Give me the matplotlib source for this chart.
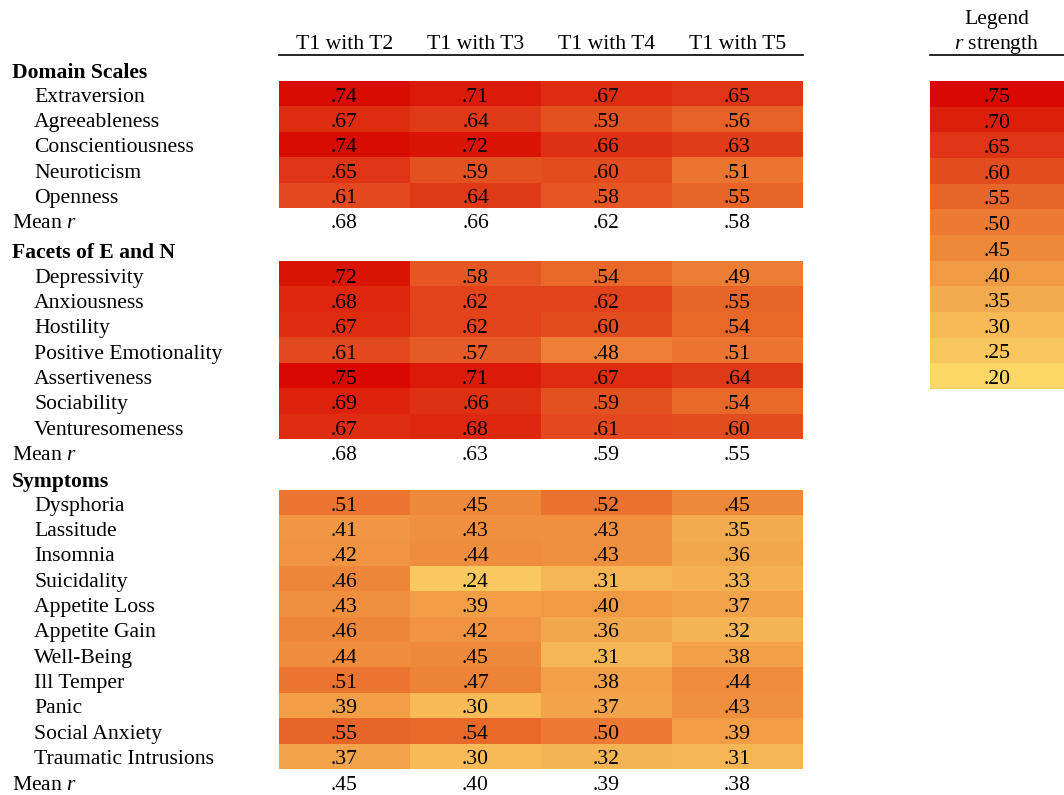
import numpy as np
import matplotlib
matplotlib.use('Agg')
import matplotlib.pyplot as plt
from matplotlib.colors import LinearSegmentedColormap

plt.rcParams['font.family'] = ['Liberation Serif', 'DejaVu Serif']
plt.rcParams['mathtext.fontset'] = 'custom'
plt.rcParams['mathtext.rm'] = 'Liberation Serif'
plt.rcParams['mathtext.it'] = 'Liberation Serif:italic'

# column headers
cols = ['T1 with T2', 'T1 with T3', 'T1 with T4', 'T1 with T5']

# block 1: domain scales
domain_names = ['Extraversion', 'Agreeableness', 'Conscientiousness', 'Neuroticism', 'Openness']
domain_vals = [[.74, .71, .67, .65],
               [.67, .64, .59, .56],
               [.74, .72, .66, .63],
               [.65, .59, .60, .51],
               [.61, .64, .58, .55]]
domain_mean = [.68, .66, .62, .58]

# block 2: facets
facet_names = ['Depressivity', 'Anxiousness', 'Hostility', 'Positive Emotionality',
               'Assertiveness', 'Sociability', 'Venturesomeness']
facet_vals = [[.72, .58, .54, .49],
              [.68, .62, .62, .55],
              [.67, .62, .60, .54],
              [.61, .57, .48, .51],
              [.75, .71, .67, .64],
              [.69, .66, .59, .54],
              [.67, .68, .61, .60]]
facet_mean = [.68, .63, .59, .55]

# block 3: symptoms
symptom_names = ['Dysphoria', 'Lassitude', 'Insomnia', 'Suicidality', 'Appetite Loss',
                 'Appetite Gain', 'Well-Being', 'Ill Temper', 'Panic', 'Social Anxiety',
                 'Traumatic Intrusions']
symptom_vals = [[.51, .45, .52, .45],
                [.41, .43, .43, .35],
                [.42, .44, .43, .36],
                [.46, .24, .31, .33],
                [.43, .39, .40, .37],
                [.46, .42, .36, .32],
                [.44, .45, .31, .38],
                [.51, .47, .38, .44],
                [.39, .30, .37, .43],
                [.55, .54, .50, .39],
                [.37, .30, .32, .31]]
symptom_mean = [.45, .40, .39, .38]

# legend scale
legend_vals = [.75, .70, .65, .60, .55, .50, .45, .40, .35, .30, .25, .20]
legend_colors = ['#D90800', '#DD200C', '#E03516', '#E44D20', '#E86529', '#EC7A33',
                 '#EF8A3B', '#F29B45', '#F4AA4E', '#F7BA57', '#F9C65E', '#FCD765']

cmap = LinearSegmentedColormap.from_list(
    'rstr', list(zip([(v - .20) / .55 for v in legend_vals[::-1]], legend_colors[::-1])))
vmin, vmax = .20, .75

fig = plt.figure(figsize=(10.64, 7.95), dpi=100)
ax = fig.add_axes([0, 0, 1, 1])
ax.set_xlim(0, 1064)
ax.set_ylim(795, 0)
ax.axis('off')

fs = 15.6
dy = 3.5  # nudge text to sit like the reference
x0, x1 = 279, 803
cw = (x1 - x0) / 4
rh = 25.35
col_x = [x0 + cw * (i + .5) for i in range(4)]


def txt(x, y, s, **kw):
    kw.setdefault('ha', 'center')
    ax.text(x, y + dy, s, va='center', fontsize=fs, **kw)


# header
for cx, c in zip(col_x, cols):
    txt(cx, 41, c)
ax.plot([x0, x1], [55, 55], color='black', lw=1.2)

blocks = [('Domain Scales', domain_names, domain_vals, domain_mean, 81),
          ('Facets of E and N', facet_names, facet_vals, facet_mean, 262),
          ('Symptoms', symptom_names, symptom_vals, symptom_mean, 490)]

for title, names, vals, mean, top in blocks:
    arr = np.array(vals)
    n = len(names)
    bottom = top + n * rh
    ax.imshow(arr, cmap=cmap, vmin=vmin, vmax=vmax, extent=[x0, x1, bottom, top],
              aspect='auto', interpolation='nearest')
    txt(12, top - 12, title, ha='left', fontweight='bold')
    for i, name in enumerate(names):
        cy = top + rh * (i + .5)
        txt(34, cy, name, ha='left')
        for j in range(4):
            txt(col_x[j], cy, ('%.2f' % arr[i, j])[1:])
    my = bottom + 12.7
    txt(12, my, 'Mean $\\mathit{r}$', ha='left')
    for j in range(4):
        txt(col_x[j], my, ('%.2f' % mean[j])[1:])

# legend
lx0, lx1 = 930, 1064
lcx = 997
txt(lcx, 16, 'Legend')
txt(lcx, 41, '$\\mathit{r}$ strength')
ax.plot([lx0, lx1], [55, 55], color='black', lw=1.2)
ltop, lbot = 81, 389
lh = (lbot - ltop) / len(legend_vals)
ax.imshow(np.array(legend_vals).reshape(-1, 1), cmap=cmap, vmin=vmin, vmax=vmax,
          extent=[lx0, lx1, lbot, ltop], aspect='auto', interpolation='nearest')
for i, v in enumerate(legend_vals):
    txt(lcx, ltop + lh * (i + .5), ('%.2f' % v)[1:])

fig.savefig('out.png', dpi=100)
